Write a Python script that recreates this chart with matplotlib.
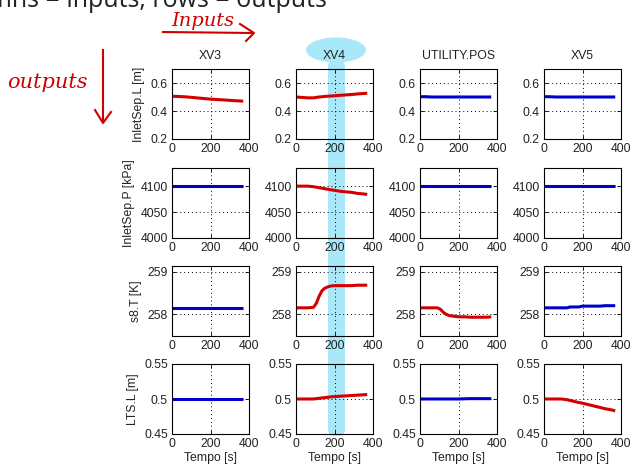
#!/usr/bin/env python3
"""Step-test matrix: columns = manipulated inputs, rows = measured outputs."""

import matplotlib

matplotlib.use("Agg")
import matplotlib.pyplot as plt
from matplotlib.patches import FancyBboxPatch, Ellipse

INPUTS = ["XV3", "XV4", "UTILITY.POS", "XV5"]
OUTPUTS = ["InletSep.L [m]", "InletSep.P [kPa]", "s8.T [K]", "LTS.L [m]"]

# sample times [s]
T = [0, 30, 60, 90, 105, 120, 135, 150, 165, 180, 200, 230, 260, 290, 320, 350, 370]

# InletSep.L response to each input
L_XV3 = [0.505, 0.504, 0.502, 0.499, 0.497, 0.495, 0.493, 0.491, 0.489, 0.487, 0.485, 0.482, 0.480, 0.477, 0.474, 0.472, 0.470]
L_XV4 = [0.500, 0.497, 0.494, 0.494, 0.497, 0.500, 0.502, 0.504, 0.506, 0.507, 0.509, 0.512, 0.515, 0.518, 0.522, 0.525, 0.527]
L_UTIL = [0.502, 0.502, 0.500, 0.500, 0.500, 0.500, 0.500, 0.500, 0.500, 0.500, 0.500, 0.500, 0.500, 0.500, 0.500, 0.500, 0.500]
L_XV5 = [0.502, 0.502, 0.500, 0.500, 0.500, 0.500, 0.500, 0.500, 0.500, 0.500, 0.500, 0.500, 0.500, 0.500, 0.500, 0.500, 0.500]

# InletSep.P
P_XV3 = [4100] * 17
P_XV4 = [4100, 4100, 4100, 4099, 4098, 4097, 4096, 4095, 4094, 4093, 4092, 4090, 4089, 4088, 4086, 4085, 4084]
P_UTIL = [4100] * 17
P_XV5 = [4100] * 17

# s8.T
T_XV3 = [258.15] * 17
T_XV4 = [258.15, 258.15, 258.15, 258.16, 258.25, 258.42, 258.55, 258.61, 258.64, 258.66, 258.67, 258.67, 258.67, 258.67, 258.68, 258.68, 258.68]
T_UTIL = [258.15, 258.15, 258.15, 258.15, 258.12, 258.05, 258.00, 257.97, 257.96, 257.95, 257.94, 257.94, 257.93, 257.93, 257.93, 257.93, 257.94]
T_XV5 = [258.15, 258.15, 258.15, 258.15, 258.15, 258.15, 258.17, 258.17, 258.17, 258.17, 258.19, 258.19, 258.19, 258.19, 258.20, 258.20, 258.20]

# LTS.L
S_XV3 = [0.500] * 17
S_XV4 = [0.500, 0.500, 0.500, 0.500, 0.5005, 0.501, 0.5015, 0.502, 0.5025, 0.503, 0.5035, 0.504, 0.5045, 0.505, 0.5055, 0.506, 0.5065]
S_UTIL = [0.500, 0.500, 0.500, 0.500, 0.500, 0.500, 0.500, 0.500, 0.500, 0.500, 0.500, 0.5003, 0.5005, 0.5005, 0.5005, 0.5005, 0.5005]
S_XV5 = [0.500, 0.500, 0.500, 0.500, 0.4995, 0.499, 0.498, 0.497, 0.496, 0.495, 0.494, 0.492, 0.490, 0.488, 0.486, 0.4845, 0.483]

SERIES = [
    [L_XV3, L_XV4, L_UTIL, L_XV5],
    [P_XV3, P_XV4, P_UTIL, P_XV5],
    [T_XV3, T_XV4, T_UTIL, T_XV5],
    [S_XV3, S_XV4, S_UTIL, S_XV5],
]
# which responses are significant (red) vs negligible (blue)
RED = [
    [True, True, False, False],
    [False, True, False, False],
    [False, True, True, False],
    [False, True, False, True],
]
YLIMS = [(0.2, 0.7), (4000, 4135), (257.49, 259.13), (0.45, 0.55)]
YTICKS = [[0.2, 0.4, 0.6], [4000, 4050, 4100], [258, 259], [0.45, 0.5, 0.55]]
YTICKLABELS = [["0.2", "0.4", "0.6"], ["4000", "4050", "4100"], ["258", "259"], ["0.45", "0.5", "0.55"]]

W, H = 633, 471
COL_X = [172, 296, 420, 544]
ROW_Y = [69, 168, 266, 364]
AX_W, AX_H = 77, 70


def fig_rect(x, y, w, h):
    return [x / W, 1 - (y + h) / H, w / W, h / H]


def main() -> None:
    plt.rcParams["font.family"] = ["Liberation Sans", "DejaVu Sans"]
    fig = plt.figure(figsize=(W / 100, H / 100), dpi=100)

    # cyan highlighter over the XV4 column (behind the axes content)
    hl = "#a8e8f8"
    fig.patches.append(FancyBboxPatch(
        (328 / W, 1 - 436 / H), 17 / W, 376 / H,
        boxstyle=f"round,pad=0,rounding_size={8 / W}",
        transform=fig.transFigure, facecolor=hl, edgecolor="none", zorder=-1))
    fig.patches.append(Ellipse(
        (336 / W, 1 - 50 / H), 60 / W, 25 / H,
        transform=fig.transFigure, facecolor=hl, edgecolor="none", zorder=-1))

    for r in range(4):
        for c in range(4):
            ax = fig.add_axes(fig_rect(COL_X[c], ROW_Y[r], AX_W, AX_H))
            ax.set_facecolor("none")
            color = "#d40000" if RED[r][c] else "#0000c8"
            ax.plot(T, SERIES[r][c], color=color, lw=2.2, solid_capstyle="butt")
            ax.set_xlim(0, 400)
            ax.set_ylim(*YLIMS[r])
            ax.set_xticks([0, 200, 400])
            ax.set_yticks(YTICKS[r])
            ax.set_yticklabels(YTICKLABELS[r])
            ax.tick_params(direction="in", length=3, width=0.6, labelsize=8.8,
                           labelcolor="#222", pad=3, top=True, right=True)
            ax.grid(True, color="black", linestyle=(0, (1, 3)), linewidth=0.7)
            for s in ax.spines.values():
                s.set_linewidth(0.8)
            if r == 0:
                ax.set_title(INPUTS[c], fontsize=8.8, color="#222", pad=7)
            if c == 0:
                ax.set_ylabel(OUTPUTS[r], fontsize=8.8, color="#222", labelpad=4)
            if r == 3:
                ax.set_xlabel("Tempo [s]", fontsize=8.8, color="#222", labelpad=1)

    # slide text cut off at the top edge
    fig.text(327 / W, 1 - 7 / H, "columns = inputs, rows = outputs", ha="right",
             va="baseline", fontsize=18, color="#222", family=["Open Sans", "DejaVu Sans"])

    # handwritten annotations
    red = "#d00000"
    fig.text(203 / W, 1 - 21 / H, "Inputs", ha="center", va="center", fontsize=14,
             color=red, style="italic", family=["DejaVu Serif"])
    fig.add_artist(plt.Line2D([163 / W, 252 / W], [1 - 32 / H, 1 - 33 / H], color=red, lw=1.5))
    fig.add_artist(plt.Line2D([240 / W, 254 / W, 246 / W], [1 - 24 / H, 1 - 33 / H, 1 - 41 / H],
                              color=red, lw=1.5))
    fig.text(47 / W, 1 - 83 / H, "outputs", ha="center", va="center", fontsize=15,
             color=red, style="italic", family=["DejaVu Serif"])
    fig.add_artist(plt.Line2D([103 / W, 103 / W], [1 - 50 / H, 1 - 122 / H], color=red, lw=1.5))
    fig.add_artist(plt.Line2D([95 / W, 103 / W, 111 / W], [1 - 110 / H, 1 - 123 / H, 1 - 112 / H],
                              color=red, lw=1.5))

    fig.savefig("out.png", dpi=100)


if __name__ == "__main__":
    main()
